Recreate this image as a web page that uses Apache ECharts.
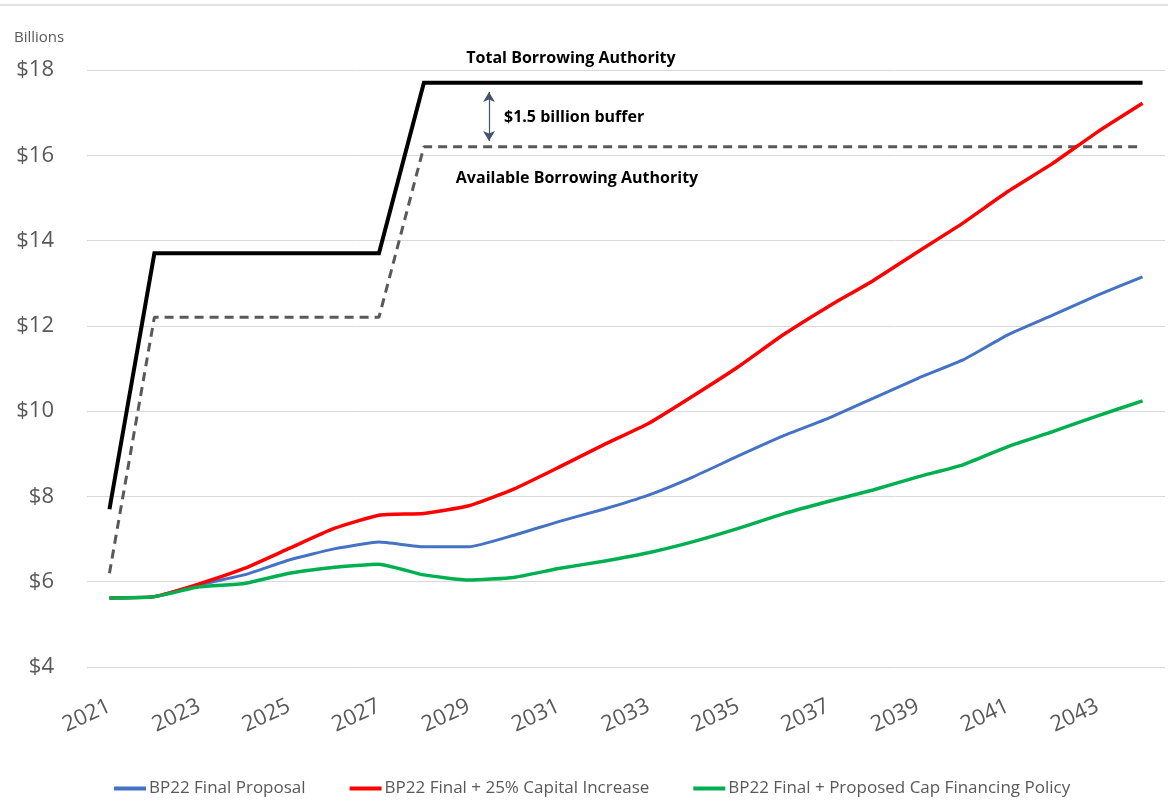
<!DOCTYPE html>
<html>
<head>
<meta charset="utf-8">
<title>Borrowing Authority</title>
<script src="https://cdn.jsdelivr.net/npm/echarts@6/dist/echarts.min.js"></script>
<style>
  html, body { margin: 0; padding: 0; background: #fff; }
  #chart { width: 1168px; height: 811px; }
</style>
</head>
<body>
<div id="chart"></div>
<script>
// years on the x axis
const years = ['2021', '2022', '2023', '2024', '2025', '2026', '2027', '2028', '2029', '2030', '2031', '2032',
  '2033', '2034', '2035', '2036', '2037', '2038', '2039', '2040', '2041', '2042', '2043', '2044'];

// borrowing authority limits (billions)
const totalAuthority = [7.7, 13.7, 13.7, 13.7, 13.7, 13.7, 13.7, 17.7, 17.7, 17.7, 17.7, 17.7,
  17.7, 17.7, 17.7, 17.7, 17.7, 17.7, 17.7, 17.7, 17.7, 17.7, 17.7, 17.7];
const availableAuthority = [6.2, 12.2, 12.2, 12.2, 12.2, 12.2, 12.2, 16.2, 16.2, 16.2, 16.2, 16.2,
  16.2, 16.2, 16.2, 16.2, 16.2, 16.2, 16.2, 16.2, 16.2, 16.2, 16.2, 16.2];

// scenarios (billions)
const finalProposal = [5.62, 5.65, 5.93, 6.16, 6.51, 6.77, 6.93, 6.82, 6.82, 7.09, 7.41, 7.70,
  8.03, 8.46, 8.95, 9.42, 9.83, 10.30, 10.77, 11.20, 11.79, 12.25, 12.72, 13.15];
const capitalIncrease = [5.62, 5.65, 5.95, 6.31, 6.78, 7.25, 7.56, 7.60, 7.78, 8.17, 8.68, 9.21,
  9.71, 10.36, 11.04, 11.79, 12.45, 13.06, 13.74, 14.41, 15.15, 15.81, 16.55, 17.22];
const capFinancing = [5.62, 5.65, 5.88, 5.96, 6.20, 6.34, 6.41, 6.16, 6.04, 6.10, 6.31, 6.48,
  6.68, 6.94, 7.25, 7.59, 7.88, 8.15, 8.46, 8.74, 9.17, 9.52, 9.89, 10.24];

const yTicks = { min: 4, max: 18, interval: 2 };

const FONT = '"Open Sans", "Noto Sans", sans-serif';
const GREY = '#595959';

const chart = echarts.init(document.getElementById('chart'));

const option = {
  animation: false,
  textStyle: { fontFamily: FONT },
  grid: { left: 87, right: 3, top: 70, bottom: 144 },
  legend: {
    bottom: 9,
    left: 109,
    itemGap: 44,
    itemWidth: 32,
    itemHeight: 4,
    icon: 'rect',
    textStyle: { color: GREY, fontSize: 17, fontFamily: FONT, padding: [0, 0, 0, -2] },
    data: ['BP22 Final Proposal', 'BP22 Final + 25% Capital Increase', 'BP22 Final + Proposed Cap Financing Policy']
  },
  xAxis: {
    type: 'category',
    data: years,
    boundaryGap: true,
    axisLine: { show: false },
    axisTick: { show: false },
    axisLabel: {
      interval: 1,
      rotate: 25,
      margin: 38,
      fontSize: 22,
      color: GREY,
      fontFamily: FONT
    }
  },
  yAxis: {
    type: 'value',
    min: yTicks.min,
    max: yTicks.max,
    interval: yTicks.interval,
    axisLine: { show: false },
    axisTick: { show: false },
    splitLine: { lineStyle: { color: '#d9d9d9', width: 1 } },
    axisLabel: {
      formatter: '${value}',
      fontSize: 22,
      color: GREY,
      margin: 33,
      fontFamily: FONT
    }
  },
  series: [
    {
      name: 'Total Borrowing Authority',
      type: 'line',
      data: totalAuthority,
      showSymbol: false,
      lineStyle: { color: '#000', width: 4, join: 'miter' },
      itemStyle: { color: '#000' },
      z: 3,
      markLine: {
        silent: true,
        symbol: ['arrow', 'arrow'],
        symbolSize: [9, 10],
        label: { show: false },
        lineStyle: { color: '#44546A', width: 1.2, type: 'solid' },
        data: [[{ x: 489, y: 92 }, { x: 489, y: 141 }]]
      }
    },
    {
      name: 'Available Borrowing Authority',
      type: 'line',
      data: availableAuthority,
      showSymbol: false,
      lineStyle: { color: '#595959', width: 3, type: [9, 6] },
      itemStyle: { color: '#595959' },
      z: 2
    },
    {
      name: 'BP22 Final Proposal',
      type: 'line',
      data: finalProposal,
      showSymbol: false,
      smooth: 0.15,
      lineStyle: { color: '#4472C4', width: 3 },
      itemStyle: { color: '#4472C4' }
    },
    {
      name: 'BP22 Final + 25% Capital Increase',
      type: 'line',
      data: capitalIncrease,
      showSymbol: false,
      smooth: 0.15,
      lineStyle: { color: '#FF0000', width: 3.5 },
      itemStyle: { color: '#FF0000' }
    },
    {
      name: 'BP22 Final + Proposed Cap Financing Policy',
      type: 'line',
      data: capFinancing,
      showSymbol: false,
      smooth: 0.15,
      lineStyle: { color: '#00B050', width: 3.5 },
      itemStyle: { color: '#00B050' }
    }
  ],
  graphic: [
    {
      type: 'line',
      shape: { x1: 0, y1: 5, x2: 1168, y2: 5 },
      style: { stroke: '#d9d9d9', lineWidth: 1.5 }
    },
    {
      type: 'text',
      left: 14,
      top: 30,
      style: { text: 'Billions', fill: GREY, font: '15px ' + FONT }
    },
    {
      type: 'text',
      x: 571,
      y: 58,
      style: {
        text: 'Total Borrowing Authority', fill: '#000',
        font: 'bold 16px ' + FONT, align: 'center', verticalAlign: 'middle'
      }
    },
    {
      type: 'text',
      x: 504,
      y: 117,
      style: {
        text: '$1.5 billion buffer', fill: '#000',
        font: 'bold 16px ' + FONT, align: 'left', verticalAlign: 'middle'
      }
    },
    {
      type: 'text',
      x: 577,
      y: 178,
      style: {
        text: 'Available Borrowing Authority', fill: '#000',
        font: 'bold 16px ' + FONT, align: 'center', verticalAlign: 'middle'
      }
    }
  ]
};

chart.setOption(option);

window.addEventListener('resize', () => chart.resize());
</script>
</body>
</html>
